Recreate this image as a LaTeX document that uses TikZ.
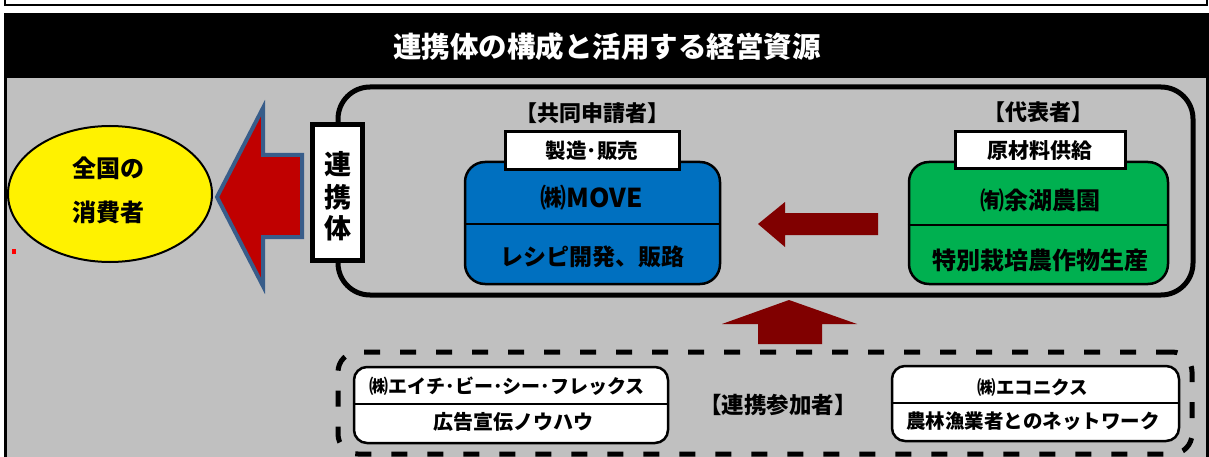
\documentclass[tikz,border=0pt]{standalone}
\usepackage{fontspec}
\setmainfont{Noto Sans CJK JP}
\usetikzlibrary{shapes.geometric}
\definecolor{bggray}{HTML}{C0C0C0}
\definecolor{boxblue}{HTML}{0070C0}
\definecolor{boxgreen}{HTML}{00B050}
\definecolor{arrowred}{HTML}{C00000}
\definecolor{arrowedge}{HTML}{385D8A}
\definecolor{darkmaroon}{HTML}{800000}
\newcommand{\myfs}[1]{\fontsize{#1}{#1}\selectfont\bfseries}
\begin{document}
\begin{tikzpicture}[x=1pt,y=-1pt,
  txt/.style={inner sep=0pt, anchor=center},
  labelbox/.style={draw, line width=3pt, fill=white, inner sep=0pt},
  orgbox/.style={draw, line width=2.5pt, rounded corners=20pt, inner sep=0pt},
  partbox/.style={draw, line width=2.5pt, fill=white, rounded corners=13pt, inner sep=0pt},
  blockarrow/.style={fill=darkmaroon}
]
\useasboundingbox (0,0) rectangle (1209,457);
\fill[white] (0,0) rectangle (1209,457);
% top frame (cut off)
\draw[line width=2.5pt] (5,-10) -- (5,5) -- (1207,5) -- (1207,-10);
% header and gray panel
\fill[black] (4,13) rectangle (1209,460);
\fill[bggray] (7,78) rectangle (1206,460);
\node[txt, text=white, font=\myfs{28.5}] (title) at (607,47) {連携体の構成と活用する経営資源};

% consumers
\node[ellipse, draw, line width=2pt, fill=yellow, minimum width=204pt, minimum height=136pt, inner sep=0pt] (consumer) at (110,194) {};
\node[txt, font=\myfs{24}] (c1) at (108,168) {全国の};
\node[txt, font=\myfs{24}] (c2) at (108,212) {消費者};
\fill[red] (12,249) rectangle (16,254);

% big arrow to consumers
\coordinate (bigtip) at (217,197);
\filldraw[fill=arrowred, draw=arrowedge, line width=4pt, line join=miter]
  (bigtip) -- (263,108) -- (263,155) -- (302,155) -- (302,237) -- (263,237) -- (263,286) -- cycle;

% renkei area
\node[draw, line width=5pt, rounded corners=32pt, minimum width=855pt, minimum height=208pt, inner sep=0pt] (area) at (765.5,191) {};
\node[draw, line width=5pt, fill=white, minimum width=50pt, minimum height=136pt, inner sep=0pt] (renkei) at (337.5,192.5) {};
\node[txt, font=\myfs{27}] (r1) at (337.5,164) {連};
\node[txt, font=\myfs{27}] (r2) at (337.5,197) {携};
\node[txt, font=\myfs{27}] (r3) at (337.5,228) {体};

% co-applicant
\node[txt, font=\myfs{22}] (coapp) at (592,113) {【共同申請者】};
\node[orgbox, fill=boxblue, minimum width=255pt, minimum height=122pt] (move) at (592.5,223) {};
\draw[line width=2.5pt] (move.west |- 0,224) -- (move.east |- 0,224);
\node[labelbox, minimum width=174pt, minimum height=38pt, font=\myfs{20.5}] (mklabel) at (592,151) {製造･販売};
\node[txt, font=\myfs{26}] (m1) at (592,198) {㈱MOVE};
\node[txt, font=\myfs{23}] (m2) at (592,257) {レシピ開発、販路};

% representative
\node[txt, font=\myfs{22}] (rep) at (1038,112) {【代表者】};
\node[orgbox, fill=boxgreen, minimum width=259pt, minimum height=122pt] (yogo) at (1038.5,223) {};
\draw[line width=2.5pt] (yogo.west |- 0,225) -- (yogo.east |- 0,225);
\node[labelbox, minimum width=170pt, minimum height=37pt, font=\myfs{21}] (ylabel) at (1040,150.5) {原材料供給};
\node[txt, font=\myfs{24}] (y1) at (1040,200) {㈲余湖農園};
\node[txt, font=\myfs{24}] (y2) at (1040,260) {特別栽培農作物生産};

% arrow green -> blue
\fill[blockarrow] (758,224) -- (785,202) -- (785,213) -- (878,213) -- (878,235) -- (785,235) -- (785,247) -- cycle;

% arrow partners -> area
\fill[blockarrow] (789,300) -- (857,324) -- (822,324) -- (822,344) -- (758,344) -- (758,324) -- (722,324) -- cycle;

% partners
\node[draw, line width=5pt, dash pattern=on 16pt off 20pt, rounded corners=20pt, minimum width=854pt, minimum height=102pt, inner sep=0pt] (partners) at (765,403) {};
\node[partbox, minimum width=314pt, minimum height=76pt] (hbc) at (511,405) {};
\draw[line width=2.5pt] (hbc.west |- 0,404) -- (hbc.east |- 0,404);
\node[txt, font=\myfs{19}] (h1) at (507,386) {㈱エイチ･ビー･シー･フレックス};
\node[txt, font=\myfs{20}] (h2) at (513,422) {広告宣伝ノウハウ};
\node[txt, font=\myfs{22.5}] (parttitle) at (778,405) {【連携参加者】};
\node[partbox, minimum width=287pt, minimum height=75pt] (eco) at (1035.5,403.5) {};
\draw[line width=2.5pt] (eco.west |- 0,403) -- (eco.east |- 0,403);
\node[txt, font=\myfs{18.5}] (e1) at (1033,387) {㈱エコニクス};
\node[txt, font=\myfs{19.5}] (e2) at (1033,421) {農林漁業者とのネットワーク};
\end{tikzpicture}
\end{document}
